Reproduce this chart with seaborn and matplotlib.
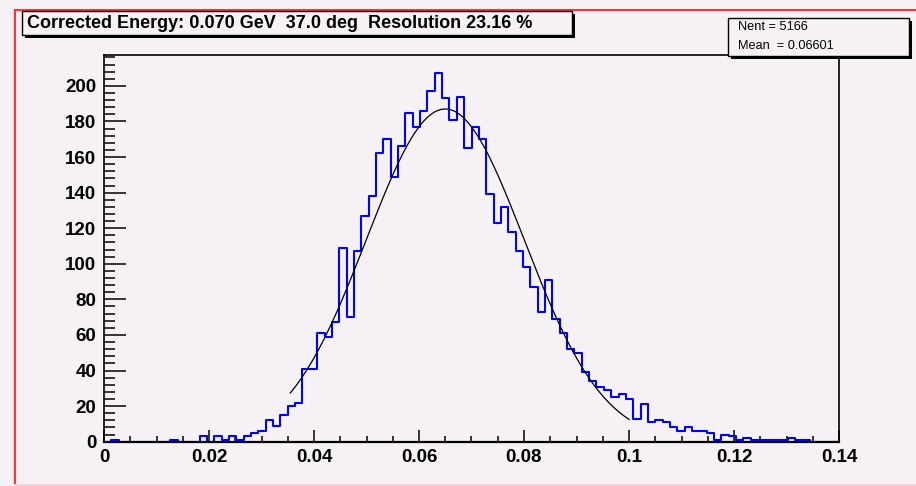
import numpy as np
import pandas as pd
import matplotlib
matplotlib.use("Agg")
import matplotlib.pyplot as plt
from matplotlib.patches import Rectangle
from matplotlib.lines import Line2D
from matplotlib.ticker import MultipleLocator
import seaborn as sns

# histogram contents, 100 bins from 0 to 0.14
counts = [
    0, 1, 0, 0, 0, 0, 0, 0, 0, 1,
    0, 0, 0, 3, 0, 3, 1, 3, 1, 3,
    5, 6, 12, 9, 15, 20, 22, 41, 41, 61,
    59, 67, 109, 70, 107, 127, 138, 162, 170, 149,
    166, 185, 177, 186, 197, 207, 193, 181, 194, 165,
    177, 170, 139, 123, 132, 118, 107, 98, 87, 73,
    91, 69, 61, 52, 50, 39, 34, 31, 29, 25,
    27, 24, 13, 21, 11, 12, 11, 8, 6, 8,
    6, 6, 5, 1, 4, 3, 1, 2, 1, 1,
    1, 1, 1, 2, 1, 1, 0, 0, 0, 0,
]
x_lo, x_hi, n_bins = 0.0, 0.14, 100

# gaussian fit parameters
fit_const = 187.0
fit_mean = 0.0650
fit_resolution = 0.2316
fit_range = (0.0355, 0.1)

title = "Corrected Energy: 0.070 GeV  37.0 deg  Resolution 23.16 %"
stats = ["Nent = 5166", "Mean  = 0.06601"]
x_ticks = [0, 0.02, 0.04, 0.06, 0.08, 0.1, 0.12, 0.14]
x_ticklabels = ["0", "0.02", "0.04", "0.06", "0.08", "0.1", "0.12", "0.14"]
y_ticks = [0, 20, 40, 60, 80, 100, 120, 140, 160, 180, 200]

W, H = 916, 486
bg = "#f5f1f5"
font = ["Liberation Sans", "DejaVu Sans"]

edges = np.linspace(x_lo, x_hi, n_bins + 1)
hist_df = pd.DataFrame({"x": 0.5 * (edges[:-1] + edges[1:]), "n": counts})

fig = plt.figure(figsize=(W / 100, H / 100), dpi=100, facecolor=bg)
ax = fig.add_axes([104 / W, 1 - 441.7 / H, (839 - 104) / W, (441.7 - 55) / H])
ax.set_facecolor(bg)

sns.histplot(data=hist_df, x="x", weights="n", bins=list(edges), element="step",
             fill=False, color="#0000ff", linewidth=1.5, ax=ax)

sigma = fit_resolution * fit_mean
xf = np.linspace(fit_range[0], fit_range[1], 300)
yf = fit_const * np.exp(-0.5 * ((xf - fit_mean) / sigma) ** 2)
sns.lineplot(x=xf, y=yf, color="black", linewidth=0.9, ax=ax)

ax.set_xlim(x_lo, x_hi)
ax.set_ylim(0, 1.05 * max(counts))
ax.set_xlabel("")
ax.set_ylabel("")
ax.set_xticks(x_ticks)
ax.set_xticklabels(x_ticklabels)
ax.set_yticks(y_ticks)
ax.xaxis.set_minor_locator(MultipleLocator(0.005))
ax.yaxis.set_minor_locator(MultipleLocator(4))
ax.tick_params(axis="y", which="major", direction="in", length=15.8, width=1.1, pad=5.5)
ax.tick_params(axis="y", which="minor", direction="in", length=7.9, width=1.1)
ax.tick_params(axis="x", which="major", direction="in", length=8.4, width=1.1, pad=5)
ax.tick_params(axis="x", which="minor", direction="in", length=4.1, width=1.1)
for lab in ax.get_xticklabels() + ax.get_yticklabels():
    lab.set_family(font)
    lab.set_fontweight("bold")
    lab.set_fontsize(13.5)
for s in ax.spines.values():
    s.set_linewidth(1.2)
    s.set_color("black")
ax.spines["bottom"].set_linewidth(1.6)


def fx(x):
    return x / W


def fy(y):
    return 1 - y / H


def pave(x0, y0, x1, y1):
    # ROOT style box with a shadow on the right and bottom
    fig.patches.append(Rectangle((fx(x0 + 3), fy(y1 + 3)), fx(x1 - x0), (y1 - y0) / H,
                                 transform=fig.transFigure, facecolor="black",
                                 edgecolor="none", zorder=10))
    fig.patches.append(Rectangle((fx(x0), fy(y1)), fx(x1 - x0), (y1 - y0) / H,
                                 transform=fig.transFigure, facecolor=bg,
                                 edgecolor="black", linewidth=1.0, zorder=11))


# canvas border
fig.add_artist(Line2D([fx(15), fx(15)], [fy(10), fy(486)], color="#ff3333", linewidth=1.5,
                      transform=fig.transFigure))
fig.add_artist(Line2D([fx(15), fx(916)], [fy(10), fy(10)], color="#ff3333", linewidth=1.5,
                      transform=fig.transFigure))
fig.add_artist(Line2D([fx(15), fx(916)], [fy(485), fy(485)], color="#f2d6dc", linewidth=1.5,
                      transform=fig.transFigure))

pave(22, 11, 572, 35)
fig.text(fx(27), fy(23), title, ha="left", va="center", fontsize=13.0,
         fontweight="bold", family=font, zorder=12)

pave(728, 18, 909, 56)
fig.text(fx(738), fy(27), stats[0], ha="left", va="center", fontsize=9.2,
         family=font, zorder=12)
fig.text(fx(738), fy(46), stats[1], ha="left", va="center", fontsize=9.2,
         family=font, zorder=12)

fig.savefig("out.png", dpi=100, facecolor=bg)
